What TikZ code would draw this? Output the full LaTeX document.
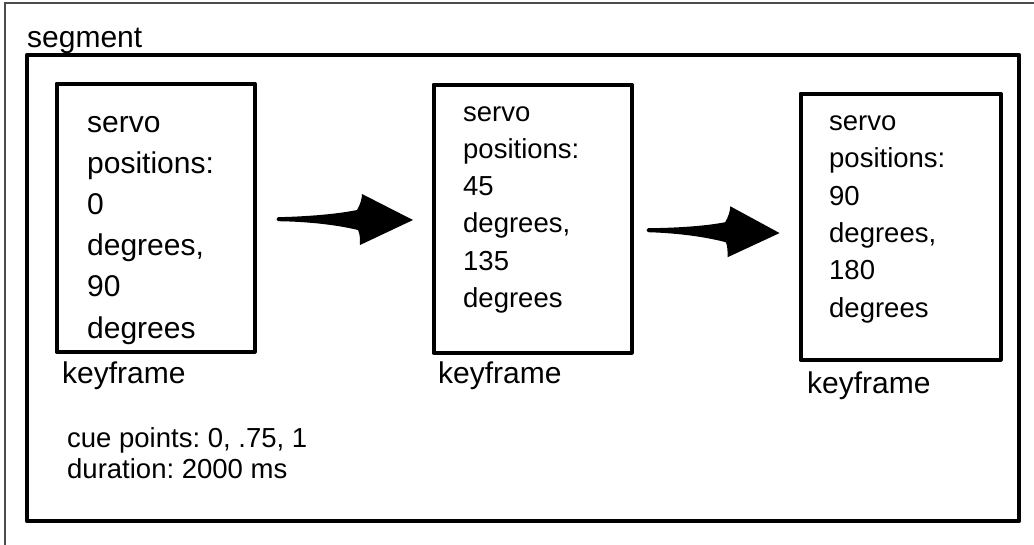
\documentclass[tikz,border=0pt]{standalone}
\usepackage{fontspec}
\setmainfont{Liberation Sans}
\frenchspacing
\begin{document}
\begin{tikzpicture}[x=1pt,y=-1pt,
  frame/.style={draw=black!70,line width=1.3pt},
  segbox/.style={draw=black,line width=4.2pt,line join=round},
  kfbox/.style={draw=black,line width=4pt,line join=round,rectangle,inner sep=0pt},
  bigtxt/.style={anchor=base west,inner sep=0pt,align=left,font=\fontsize{30}{41.2}\selectfont},
  smalltxt/.style={anchor=base west,inner sep=0pt,align=left,font=\fontsize{27.5}{37.3}\selectfont},
  lbl/.style={anchor=base west,inner sep=0pt,font=\fontsize{30}{36}\selectfont},
  swoosh/.pic={
    \fill[black,line join=round] (0,-1.8) .. controls (30,-2.5) and (60,-5) .. (79,-9)
      .. controls (82,-14) and (84,-20) .. (84,-25)
      -- (135,1)
      -- (82,26)
      .. controls (82,20) and (82,15) .. (80,11)
      .. controls (55,5) and (25,2.5) .. (0,2.2)
      .. controls (-2,2) and (-2,-1.6) .. cycle;
  }]
\useasboundingbox (0,0) rectangle (1034,544);
% outer frame (only top and left visible)
\draw[frame] (5,560) -- (5,3) -- (1040,3);
% segment
\node[lbl] (seg) at (27,47) {segment};
\draw[segbox] (27,55) rectangle (1019,521);
% keyframe boxes
\node[kfbox,minimum width=198pt,minimum height=268pt] (b1) at (155.5,217.5) {};
\node[kfbox,minimum width=198pt,minimum height=268pt] (b2) at (532.5,218.5) {};
\node[kfbox,minimum width=200pt,minimum height=266pt] (b3) at (900.5,226.5) {};
% texts (anchor = baseline of last line)
\node[bigtxt] (t1) at (87,338) {servo\\positions:\\0\\degrees,\\90\\degrees};
\node[smalltxt] (t2) at (463,307.5) {servo\\positions:\\45\\degrees,\\135\\degrees};
\node[smalltxt] (t3) at (829,317) {servo\\positions:\\90\\degrees,\\180\\degrees};
\node[lbl] (k1) at (62,383) {keyframe};
\node[lbl] (k2) at (438,383) {keyframe};
\node[lbl] (k3) at (807,393) {keyframe};
\node[smalltxt,font=\fontsize{27.5}{31.5}\selectfont] (cue) at (67,478.5) {cue points: 0, .75, 1\\duration: 2000 ms};
% arrows
\coordinate (a1) at (278,219);
\coordinate (a2) at (648,230);
\pic at (a1) {swoosh};
\pic[rotate=-0.9,xscale=0.975] at (a2) {swoosh};
\end{tikzpicture}
\end{document}
